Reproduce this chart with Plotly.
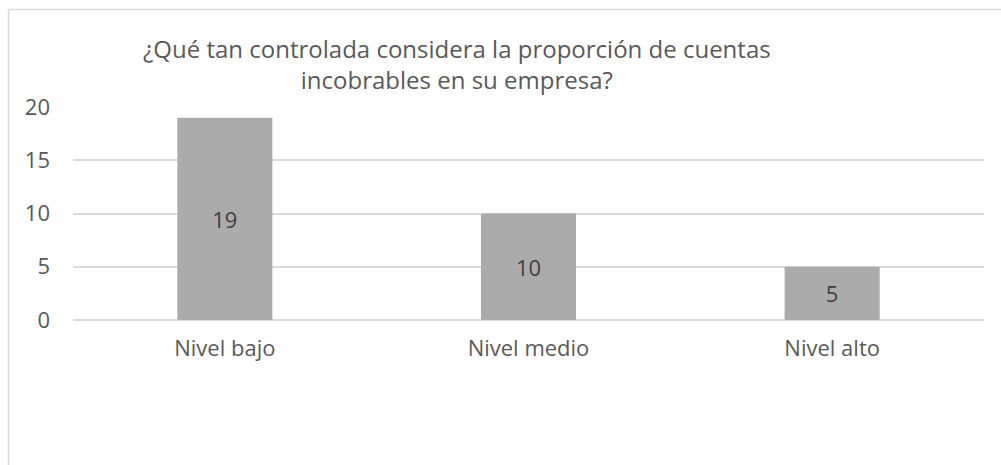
import plotly.graph_objects as go

# Survey results: perceived control over the share of bad debts
categorias = ["Nivel bajo", "Nivel medio", "Nivel alto"]
respuestas = [19, 10, 5]
y_ticks = [0, 5, 10, 15, 20]

titulo = "¿Qué tan controlada considera la proporción de cuentas<br>incobrables en su empresa?"

FONT = "Open Sans"
GRID = "#D9D9D9"
TXT = "#595959"

W, H = 1001, 465
L, R, T, B = 73, 17, 107, 145
pw, ph = W - L - R, H - T - B


def px_x(x):
    return (x - L) / pw


def px_y(y):
    return (H - B - y) / ph


fig = go.Figure(
    go.Bar(
        x=categorias,
        y=respuestas,
        marker=dict(color="#ABABAB", line=dict(width=0)),
        text=[str(v) for v in respuestas],
        textposition="inside",
        insidetextanchor="middle",
        textangle=0,
        textfont=dict(family=FONT, size=22, color="#404040"),
        width=0.313,
        hoverinfo="x+y",
    )
)

fig.update_layout(
    width=W,
    height=H,
    autosize=False,
    margin=dict(l=L, r=R, t=T, b=B, pad=0),
    paper_bgcolor="white",
    plot_bgcolor="white",
    showlegend=False,
    font=dict(family=FONT, size=22, color=TXT),
    xaxis=dict(
        showgrid=False,
        showline=False,
        zeroline=False,
        ticks="",
        ticklabelstandoff=13,
        tickfont=dict(family=FONT, size=22, color=TXT),
    ),
    yaxis=dict(
        range=[0, 20],
        tickvals=y_ticks,
        showgrid=True,
        gridcolor=GRID,
        gridwidth=1.5,
        zeroline=True,
        zerolinecolor=GRID,
        zerolinewidth=1.5,
        showline=False,
        ticks="",
        ticklabelstandoff=22,
        tickfont=dict(family=FONT, size=22, color=TXT),
    ),
    annotations=[
        dict(
            text=titulo,
            xref="paper",
            yref="paper",
            x=px_x(457),
            y=px_y(64),
            xanchor="center",
            yanchor="middle",
            align="center",
            showarrow=False,
            font=dict(family=FONT, size=24, color=TXT),
        )
    ],
    shapes=[
        dict(type="line", xref="paper", yref="paper",
             x0=px_x(8.5), x1=px_x(8.5), y0=px_y(470), y1=px_y(9.5),
             line=dict(color=GRID, width=1.5)),
        dict(type="line", xref="paper", yref="paper",
             x0=px_x(8.5), x1=px_x(1010), y0=px_y(9.5), y1=px_y(9.5),
             line=dict(color=GRID, width=1.5)),
    ],
)

fig.write_html("out.html")
